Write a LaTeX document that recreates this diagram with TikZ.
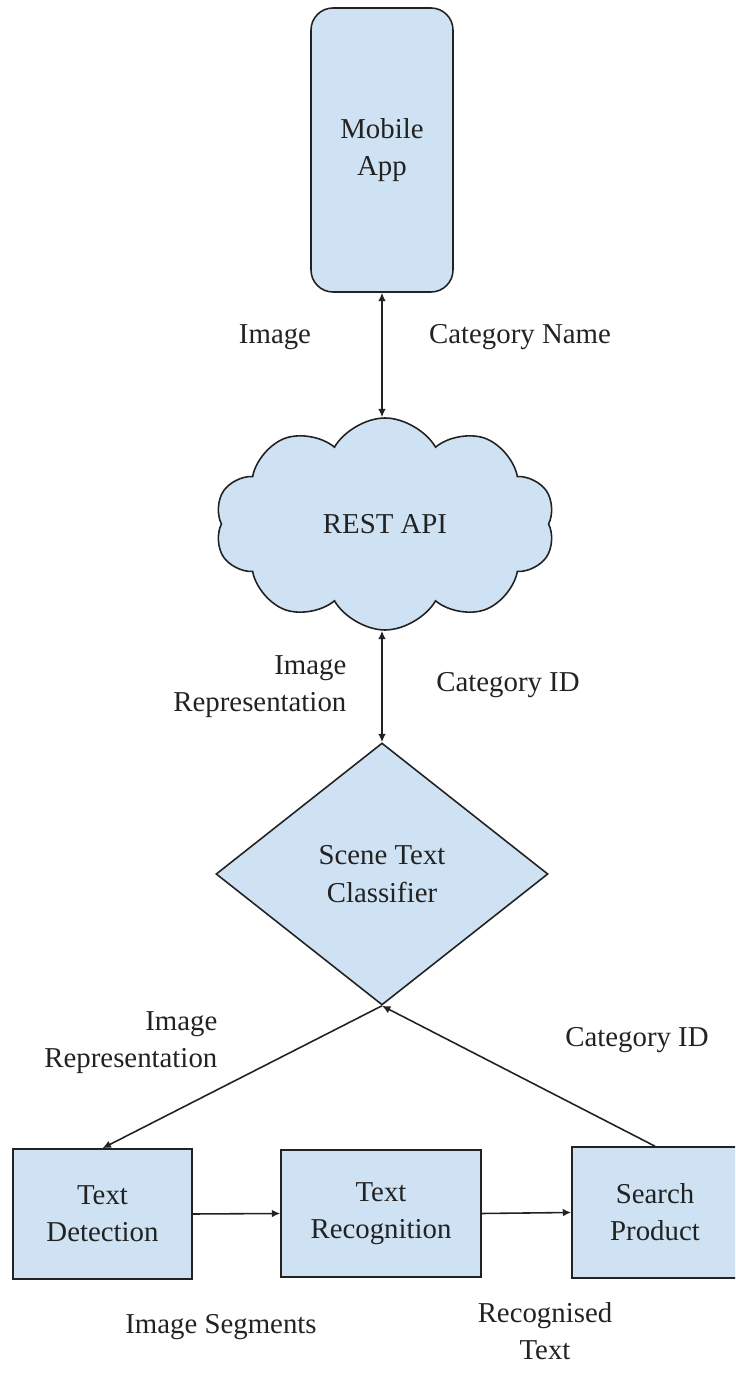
\documentclass[tikz,border=0pt]{standalone}
\usepackage{fontspec}
\setmainfont{Liberation Serif}
\usetikzlibrary{shapes.geometric,shapes.symbols,arrows.meta}
\definecolor{boxblue}{HTML}{CFE2F3}
\definecolor{inkgray}{HTML}{222222}
\begin{document}
\begin{tikzpicture}[x=1cm,y=1cm,
    font=\rmfamily\fontsize{8.2}{10.6}\selectfont,text=inkgray,
    >={Latex[length=2.4pt,width=2.2pt]},
    blk/.style={draw=inkgray,line width=0.45pt,fill=boxblue,align=center,inner sep=0pt},
    lnk/.style={draw=inkgray,line width=0.45pt},
    lbl/.style={align=center,inner sep=0pt}]
    \useasboundingbox (0,0) rectangle (7.35,13.76);
    \clip (0,0) rectangle (7.35,13.76);

    % blocks
    \node[blk,rounded corners=0.22cm,minimum width=1.42cm,minimum height=2.84cm]
        (app) at (3.82,12.26) {Mobile\\App};
    \node[blk,cloud,cloud puffs=10,cloud puff arc=120,aspect=1.6,
        minimum width=3.40cm,minimum height=2.12cm]
        (api) at (3.85,8.52) {REST API};
    \node[blk,diamond,minimum width=3.32cm,minimum height=2.62cm]
        (clf) at (3.82,5.02) {Scene Text\\Classifier};
    \node[blk,minimum width=1.79cm,minimum height=1.30cm]
        (det) at (1.025,1.62) {Text\\Detection};
    \node[blk,minimum width=2.00cm,minimum height=1.27cm]
        (rec) at (3.81,1.625) {Text\\Recognition};
    \node[blk,minimum width=1.66cm,minimum height=1.31cm]
        (srch) at (6.55,1.635) {Search\\Product};

    % connectors
    \draw[lnk,<->] (app.south) -- (app.south |- api.north);
    \draw[lnk,<->] (api.south -| clf.north) -- (clf.north);
    \draw[lnk,->] (clf.south) -- (det.north);
    \draw[lnk,->] (srch.north) -- (clf.south);
    \draw[lnk,->] (det.east) -- (rec.west);
    \draw[lnk,->] (rec.east) -- (srch.west);

    % labels
    \node[lbl] (l1) at (2.75,10.39) {Image};
    \node[lbl] (l2) at (5.20,10.39) {Category Name};
    \node[lbl,align=right,anchor=east] (l3) at (3.47,6.89) {Image\\Representation};
    \node[lbl] (l4) at (5.08,6.91) {Category ID};
    \node[lbl,align=right,anchor=east] (l5) at (2.18,3.33) {Image\\Representation};
    \node[lbl] (l6) at (6.37,3.36) {Category ID};
    \node[lbl] (l7) at (2.21,0.49) {Image Segments};
    \node[lbl] (l8) at (5.45,0.45) {Recognised\\Text};
\end{tikzpicture}
\end{document}
